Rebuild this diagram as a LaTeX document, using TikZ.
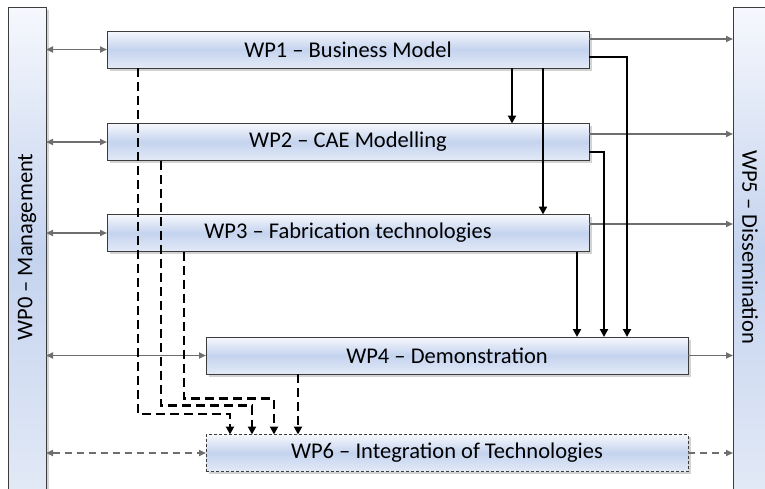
\documentclass[tikz,border=0pt]{standalone}
\usepackage{fontspec}
\setmainfont{Carlito}
\usetikzlibrary{arrows.meta,shadows,calc}
\definecolor{boxtop}{HTML}{F6F8FD}
\definecolor{boxmid}{HTML}{C4D3EE}
\definecolor{boxbot}{HTML}{E3EAF7}
\definecolor{edgec}{HTML}{3C3C3C}
\definecolor{garr}{HTML}{6E6E6E}
\begin{document}
\begin{tikzpicture}[x=1pt,y=-1pt,
  wpbase/.style={draw=edgec, line width=1pt, top color=boxtop, bottom color=boxbot, middle color=boxmid,
    inner sep=0pt, outer sep=0pt,
    drop shadow={shadow xshift=2.5pt, shadow yshift=-2.5pt, opacity=0.35}},
  wpbox/.style={wpbase, minimum width=482pt, minimum height=37pt, font=\fontsize{22.5}{27}\selectfont},
  vbar/.style={wpbase, minimum width=492pt, minimum height=38pt},
  vtext/.style={inner sep=0pt, font=\fontsize{22.5}{27}\selectfont},
  garrow/.style={draw=garr, line width=1.7pt, -{Triangle[length=7pt,width=6pt]}},
  gdarrow/.style={draw=garr, line width=1.7pt, {Triangle[length=7pt,width=6pt]}-{Triangle[length=7pt,width=6pt]}},
  barrow/.style={draw=black, line width=2.9pt, -{Triangle[length=8pt,width=8pt]}},
  darrow/.style={draw=black, line width=2.9pt, dash pattern=on 9pt off 5pt, -{Triangle[length=8pt,width=8pt]}},
]
\useasboundingbox (0,0) rectangle (765,488);
% side bars
\node[vbar, rotate=90] (wp0) at (27,253) {};
\node[vtext, rotate=90] (wp0t) at (27,247) {WP0 – Management};
\node[vbar, rotate=-90] (wp5) at (752,253) {};
\node[vtext, rotate=-90] (wp5t) at (750,247) {WP5 – Dissemination};
% work packages
\node[wpbox] (wp1) at (348,49.5) {WP1 – Business Model};
\node[wpbox] (wp2) at (348,142) {WP2 – CAE Modelling};
\node[wpbox] (wp3) at (348,233) {WP3 – Fabrication technologies};
\node[wpbox] (wp4) at (447,355.5) {WP4 – Demonstration};
\node[wpbox, dash pattern=on 3pt off 2pt, line width=0.8pt] (wp6) at (447,453) {WP6 – Integration of Technologies};
% management links
\draw[gdarrow] (wp0.south |- wp1.west) -- (wp1.west);
\draw[gdarrow] (wp0.south |- wp2.west) -- (wp2.west);
\draw[gdarrow] (wp0.south |- wp3.west) -- (wp3.west);
\draw[gdarrow] (wp0.south |- wp4.west) -- (wp4.west);
\draw[gdarrow, dash pattern=on 7pt off 5pt] (wp0.south |- wp6.west) -- (wp6.west);
% dissemination links
\draw[garrow] ([yshift=10.5pt]wp1.east) -- ([yshift=10.5pt]wp1.east -| wp5.south);
\draw[garrow] ([yshift=8pt]wp2.east) -- ([yshift=8pt]wp2.east -| wp5.south);
\draw[garrow] ([yshift=9pt]wp3.east) -- ([yshift=9pt]wp3.east -| wp5.south);
\draw[garrow] (wp4.east) -- (wp4.east -| wp5.south);
\draw[garrow, dash pattern=on 7pt off 5pt] (wp6.east) -- (wp6.east -| wp5.south);
% solid dependencies
\draw[barrow] ([xshift=164pt]wp1.south) -- ([xshift=164pt]wp1.south |- wp2.north);
\draw[barrow] ([xshift=195pt]wp1.south) -- ([xshift=195pt]wp1.south |- wp3.north);
\draw[barrow] ([yshift=-7.5pt]wp1.east) -| ([xshift=180pt]wp4.north);
\draw[barrow] ([yshift=-10pt]wp2.east) -| ([xshift=157pt]wp4.north);
\draw[barrow] ([xshift=229pt]wp3.south) -- ([xshift=229pt]wp3.south |- wp4.north);
% dashed dependencies
\draw[darrow] ([xshift=-210pt]wp1.south) -- ++(0,346) -| ([xshift=-217pt]wp6.north);
\draw[darrow] ([xshift=-187pt]wp2.south) -- ++(0,245) -| ([xshift=-195pt]wp6.north);
\draw[darrow] ([xshift=-164pt]wp3.south) -- ++(0,147) -| ([xshift=-173pt]wp6.north);
\draw[darrow] ([xshift=-149pt]wp4.south) -- ([xshift=-149pt]wp6.north);
\end{tikzpicture}
\end{document}
